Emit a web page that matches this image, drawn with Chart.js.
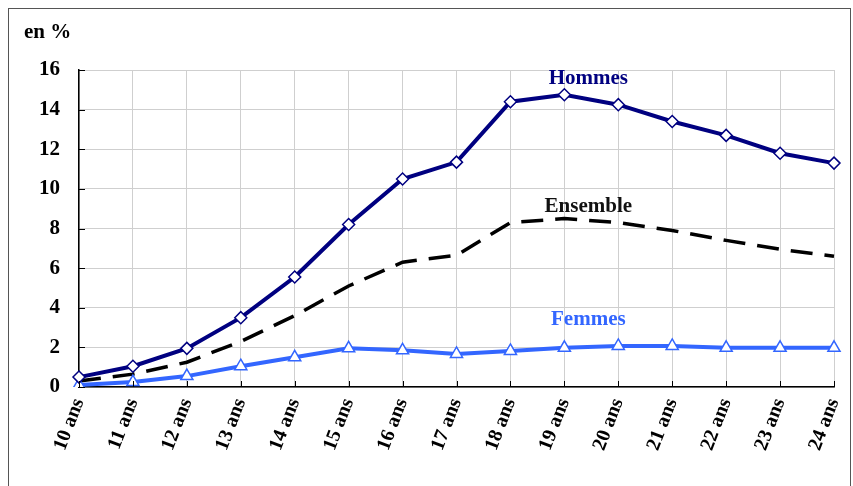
<!DOCTYPE html>
<html>
<head>
<meta charset="utf-8">
<script src="https://cdn.jsdelivr.net/npm/chart.js@4"></script>
<style>
  html, body { margin: 0; padding: 0; background: #fff; }
  #wrap { width: 853px; height: 486px; }
</style>
</head>
<body>
<div id="wrap"><canvas id="ageChart" width="853" height="486"></canvas></div>
<script>
// Ages
const ages = ['10 ans', '11 ans', '12 ans', '13 ans', '14 ans', '15 ans', '16 ans', '17 ans',
              '18 ans', '19 ans', '20 ans', '21 ans', '22 ans', '23 ans', '24 ans'];

// Series values (en %)
const hommes   = [0.5, 1.05, 1.95, 3.5, 5.55, 8.2, 10.5, 11.35, 14.4, 14.75, 14.25, 13.4, 12.7, 11.8, 11.3];
const ensemble = [0.3, 0.65, 1.25, 2.3, 3.6, 5.1, 6.3, 6.65, 8.3, 8.5, 8.3, 7.9, 7.4, 6.95, 6.6];
const femmes   = [0.1, 0.25, 0.55, 1.05, 1.5, 1.95, 1.85, 1.67, 1.82, 1.98, 2.07, 2.07, 1.98, 1.98, 1.98];

// Series labels placed inside the plot: [text, category, value]
const seriesLabels = [
    ['Hommes', '19 ans', 15.55],
    ['Ensemble', '19 ans', 9.1],
    ['Femmes', '19 ans', 3.4]
];

const yTicks = [0, 2, 4, 6, 8, 10, 12, 14, 16];

const NAVY = '#000080';
const BLUE = '#3366ff';
const SERIF = '"Liberation Serif", "Times New Roman", serif';

// Frame, unit caption, inline series labels and inside tick marks
const decorations = {
    id: 'decorations',
    afterDraw(chart) {
        const ctx = chart.ctx;
        const x = chart.scales.x, y = chart.scales.y;
        const area = chart.chartArea;
        ctx.save();

        // outer frame
        ctx.strokeStyle = '#555';
        ctx.lineWidth = 1;
        ctx.strokeRect(8.5, 8.5, 842, 500);

        // unit caption
        ctx.fillStyle = '#000';
        ctx.font = 'bold 21px ' + SERIF;
        ctx.textBaseline = 'middle';
        ctx.textAlign = 'left';
        ctx.fillText('en %', 24, 33);

        // small inside tick marks
        ctx.strokeStyle = '#000';
        ctx.lineWidth = 1;
        ctx.beginPath();
        yTicks.forEach(v => {
            const py = Math.round(y.getPixelForValue(v)) + 0.5;
            ctx.moveTo(area.left, py);
            ctx.lineTo(area.left + 6, py);
        });
        ages.forEach((a, i) => {
            const px = Math.round(x.getPixelForValue(i)) + 0.5;
            ctx.moveTo(px, area.bottom);
            ctx.lineTo(px, area.bottom - 6);
        });
        ctx.stroke();

        // series names
        const colors = { Hommes: NAVY, Ensemble: '#111', Femmes: BLUE };
        ctx.textAlign = 'center';
        ctx.font = 'bold 21px ' + SERIF;
        seriesLabels.forEach(([txt, cat, val]) => {
            ctx.fillStyle = colors[txt];
            const px = x.getPixelForValue(ages.indexOf(cat)) + 24;
            ctx.fillText(txt, px, y.getPixelForValue(val));
        });
        ctx.restore();
    }
};

const ctx = document.getElementById('ageChart').getContext('2d');
const ageChart = new Chart(ctx, {
    type: 'line',
    data: {
        labels: ages,
        datasets: [
            {
                label: 'Ensemble',
                data: ensemble,
                borderColor: '#000',
                borderWidth: 3.5,
                borderDash: [22, 12],
                pointRadius: 0,
                tension: 0,
                order: 2
            },
            {
                label: 'Femmes',
                data: femmes,
                borderColor: BLUE,
                borderWidth: 4,
                pointStyle: 'triangle',
                pointRadius: 7,
                pointBorderWidth: 1.5,
                pointBackgroundColor: '#fff',
                pointBorderColor: BLUE,
                tension: 0,
                order: 1
            },
            {
                label: 'Hommes',
                data: hommes,
                borderColor: NAVY,
                borderWidth: 4,
                pointStyle: 'rectRot',
                pointRadius: 6,
                pointBorderWidth: 1.5,
                pointBackgroundColor: '#fff',
                pointBorderColor: NAVY,
                tension: 0,
                order: 0
            }
        ]
    },
    options: {
        responsive: false,
        animation: false,
        layout: { padding: { top: 70, right: 19, left: 0, bottom: 0 } },
        plugins: {
            legend: { display: false },
            tooltip: { enabled: false }
        },
        scales: {
            x: {
                offset: false,
                afterFit(s) { s.height = 99; s.paddingLeft = 0; s.paddingRight = 0; },
                grid: { color: '#cfcfcf', lineWidth: 1, drawTicks: false },
                border: { color: '#000', width: 1.5 },
                ticks: {
                    color: '#000',
                    font: { family: SERIF, size: 20, weight: 'bold' },
                    minRotation: 69,
                    maxRotation: 69,
                    padding: 8,
                    autoSkip: false
                }
            },
            y: {
                min: 0,
                max: 16,
                afterFit(s) { s.width = 79; },
                afterBuildTicks(s) { s.ticks = yTicks.map(v => ({ value: v })); },
                grid: { color: '#cfcfcf', lineWidth: 1, drawTicks: false },
                border: { color: '#000', width: 1.5 },
                ticks: {
                    color: '#000',
                    font: { family: SERIF, size: 21, weight: 'bold' },
                    padding: 19
                }
            }
        }
    },
    plugins: [decorations]
});
</script>
</body>
</html>
